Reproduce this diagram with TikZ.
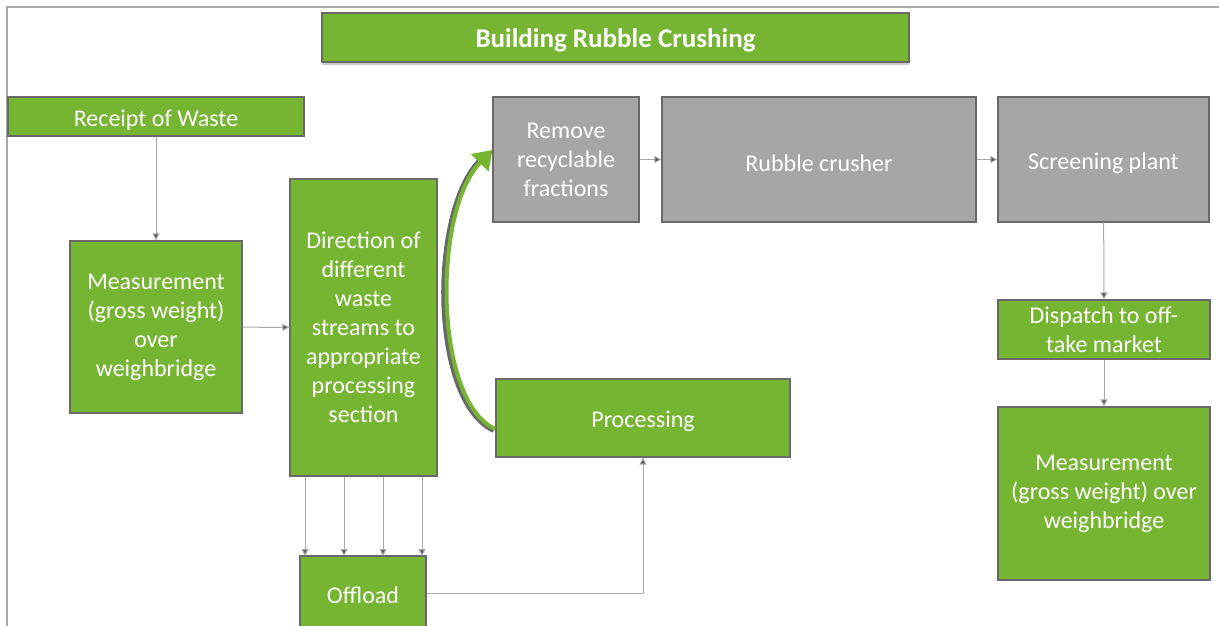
\documentclass[tikz,border=0pt]{standalone}
\usepackage{fontspec}
\setmainfont{Carlito}
\usetikzlibrary{arrows.meta,shadows}

\definecolor{leaf}{RGB}{118,181,49}
\definecolor{stone}{RGB}{166,166,166}
\definecolor{rim}{RGB}{105,105,105}
\definecolor{wire}{RGB}{170,170,170}
\definecolor{tipgray}{RGB}{90,90,90}

\tikzset{
	greenbox/.style={draw=rim, fill=leaf, text=white, align=center, inner sep=0pt,
		font=\fontsize{24}{29}\selectfont, line width=1.2pt,
		execute at begin node={\rule{0pt}{24pt}}},
	graybox/.style={greenbox, fill=stone},
	flow/.style={draw=wire, line width=1pt, -{Triangle[length=7pt,width=7pt,fill=tipgray]}},
}

\begin{document}
\begin{tikzpicture}[x=1pt, y=-1pt]
	\useasboundingbox (0,0) rectangle (1219,626);
	% page frame
	\draw[wire, line width=2.5pt] (1219,7) -- (7,7) -- (7,626);
	
	% title bar
	\node[greenbox, minimum width=587pt, minimum height=49pt, drop shadow={shadow xshift=0pt, shadow yshift=-3pt, opacity=0.4},
		font=\fontsize{27}{32}\selectfont\bfseries] (title) at (615.5,37.5) {Building Rubble Crushing};
	
	% left column
	\node[greenbox, minimum width=296pt, minimum height=39pt] (receipt) at (156,116.5) {Receipt of Waste};
	\node[greenbox, minimum width=172pt, minimum height=172pt] (weighin) at (156,327) {Measurement\\(gross weight)\\over\\weighbridge};
	\node[greenbox, minimum width=147pt, minimum height=297pt] (direct) at (363.5,327.5) {Direction of\\different\\waste\\streams to\\appropriate\\processing\\section};
	\node[greenbox, minimum width=126pt, minimum height=72pt] (offload) at (363,592) {Offload};
	\node[greenbox, minimum width=294pt, minimum height=78pt] (proc) at (643,418) {Processing};
	
	% crushing line
	\node[graybox, minimum width=146pt, minimum height=125pt] (remove) at (566,159.5) {Remove\\recyclable\\fractions};
	\node[graybox, minimum width=314pt, minimum height=125pt] (crusher) at (819,159.5) {Rubble crusher};
	\node[graybox, minimum width=211pt, minimum height=125pt] (screen) at (1103.5,159.5) {Screening plant};
	
	% right column
	\node[greenbox, minimum width=212pt, minimum height=59pt] (dispatch) at (1104,329.5) {Dispatch to off-\\take market};
	\node[greenbox, minimum width=212pt, minimum height=173pt] (weighout) at (1104,493.5) {Measurement\\(gross weight) over\\weighbridge};
	
	% connectors
	\draw[flow] (receipt) -- (weighin);
	\draw[flow] (weighin) -- (direct);
	\foreach \x in {305,344,383,422}
		\draw[flow] (\x,477) -- (\x,556);
	\draw[flow] (offload.east |- 0,593) -| (proc);
	\draw[flow] (remove) -- (crusher);
	\draw[flow] (crusher) -- (screen);
	\draw[flow] (screen) -- (dispatch);
	\draw[flow] (dispatch) -- (weighout);
	
	% curved return arrow
	\draw[rim, line width=6pt] (494,430) .. controls (430,400) and (430,210) .. (481,160);
	\draw[leaf, line width=4pt, -{Triangle[length=18pt,width=24pt]}] (495,429) .. controls (433,400) and (433,210) .. (remove.west |- 0,150);
\end{tikzpicture}
\end{document}
